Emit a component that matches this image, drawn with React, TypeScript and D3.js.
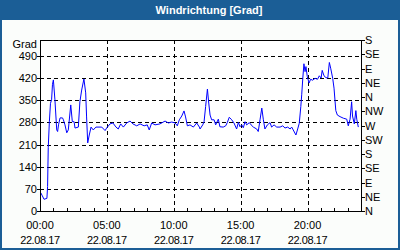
import React from "react";
import * as d3 from "d3";

const minutes = [3,9,18,31,34,37,42,47,52,56,60,67,75,79,83,90,101,105,112,120,127,138,145,153,157,172,179,187,197,205,209,214,221,229,239,251,277,292,299,314,327,341,351,362,374,389,404,417,434,449,467,481,490,501,516,538,561,576,591,606,616,625,636,646,653,661,673,688,703,715,718,730,736,743,751,757,763,770,781,788,800,807,822,833,840,849,860,870,882,890,897,905,912,920,927,939,947,957,972,979,987,995,1002,1009,1020,1032,1039,1050,1062,1077,1089,1099,1111,1122,1129,1136,1148,1156,1163,1170,1174,1179,1184,1189,1193,1199,1207,1214,1223,1234,1245,1253,1261,1266,1274,1283,1291,1298,1304,1313,1319,1327,1334,1346,1361,1376,1383,1391,1398,1402,1410,1417,1421,1428];
const degrees = [58,50,37,40,77,200,282,340,351,400,414,351,256,251,272,294,294,288,272,247,256,335,282,282,262,265,345,382,417,373,297,215,240,265,256,265,265,254,262,275,278,265,259,275,265,278,284,275,269,275,269,272,256,278,272,275,284,278,281,278,269,288,300,316,297,269,272,265,278,265,259,272,282,330,385,341,303,288,288,272,290,266,265,269,279,296,288,278,259,280,266,272,263,282,272,279,272,265,259,251,288,325,288,259,272,279,265,272,265,265,269,262,265,259,265,256,240,259,277,330,367,420,465,440,456,425,404,416,413,419,416,427,420,444,427,421,420,469,451,419,388,317,303,298,293,290,269,290,345,300,275,317,290,265];

const leftTicks = [0, 70, 140, 210, 280, 350, 420, 490];
const rightTicks = [0, 45, 90, 135, 180, 225, 270, 315, 360, 405, 450, 495, 540];
const rightLabels = ["N", "NE", "E", "SE", "S", "SW", "W", "NW", "N", "NE", "E", "SE", "S"];
const timeTicks = [0, 300, 600, 900, 1200];
const timeLabels = ["00:00", "05:00", "10:00", "15:00", "20:00"];
const dateLabel = "22.08.17";
const title = "Windrichtung [Grad]";
const unit = "Grad";

export default function App() {
  const W = 400, H = 250;
  const L = 40, R = 361, T = 40, B = 211;
  const x = d3.scaleLinear().domain([0, 1440]).range([L, R]);
  const y = d3.scaleLinear().domain([0, 540]).range([B, T]);
  const line = d3.line<number>().x((_, i) => x(minutes[i])).y((d) => y(d));
  const hours = d3.range(0, 25).map((h) => h * 60);
  const font = "'Liberation Sans', Arial, sans-serif";
  return (
    <svg width={W} height={H} style={{ position: "absolute", left: 0, top: 0 }} fontFamily={font}>
      <rect x={0} y={0} width={W} height={H} fill="#1b5e96" />
      <rect x={2} y={20} width={W - 4} height={H - 22} fill="#fbfdfb" />
      <text x={209} y={14} fill="#ffffff" fontSize={11} fontWeight="bold" textAnchor="middle">{title}</text>
      <rect x={L} y={T} width={R - L} height={B - T} fill="#ffffff" />
      <g stroke="#000" strokeDasharray="4,3" strokeWidth={1} shapeRendering="crispEdges">
        {leftTicks.filter((v) => v > 0).map((v) => (
          <line key={"h" + v} x1={L} x2={R} y1={Math.round(y(v)) + 0.5} y2={Math.round(y(v)) + 0.5} />
        ))}
        {timeTicks.filter((t) => t > 0).map((t) => (
          <line key={"v" + t} x1={Math.round(x(t)) + 0.5} x2={Math.round(x(t)) + 0.5} y1={T} y2={B} />
        ))}
      </g>
      <path d={line(degrees) || ""} fill="none" stroke="#0000ff" strokeWidth={1} />
      <g stroke="#000" strokeWidth={1} shapeRendering="crispEdges" fill="none">
        <line x1={L + 0.5} x2={L + 0.5} y1={T} y2={B + 1} />
        <line x1={L} x2={R + 1} y1={T + 0.5} y2={T + 0.5} />
        <line x1={L} x2={R + 1} y1={B + 0.5} y2={B + 0.5} />
        <line x1={R + 0.5} x2={R + 0.5} y1={T} y2={B + 1} />
        {hours.map((m) => (
          <line key={"t" + m} x1={Math.round(x(m)) + 0.5} x2={Math.round(x(m)) + 0.5} y1={B - 3} y2={B} />
        ))}
        {leftTicks.map((v) => (
          <line key={"l" + v} x1={L - 3} x2={L} y1={Math.round(y(v)) + 0.5} y2={Math.round(y(v)) + 0.5} />
        ))}
        {rightTicks.map((v) => (
          <line key={"r" + v} x1={R} x2={R + 4} y1={Math.round(y(v)) + 0.5} y2={Math.round(y(v)) + 0.5} />
        ))}
      </g>
      <g fontSize={11} fill="#000">
        <text x={37} y={48} textAnchor="end">{unit}</text>
        {leftTicks.map((v) => (
          <text key={"lt" + v} x={37} y={y(v) + 4} textAnchor="end">{v}</text>
        ))}
        {rightTicks.map((v, i) => (
          <text key={"rt" + v} x={365} y={y(v) + 4}>{rightLabels[i]}</text>
        ))}
        {timeTicks.map((t, i) => (
          <g key={"bt" + t}>
            <text x={x(t)} y={229} textAnchor="middle">{timeLabels[i]}</text>
            <text x={x(t)} y={244} textAnchor="middle" letterSpacing={-0.4}>{dateLabel}</text>
          </g>
        ))}
      </g>
    </svg>
  );
}
